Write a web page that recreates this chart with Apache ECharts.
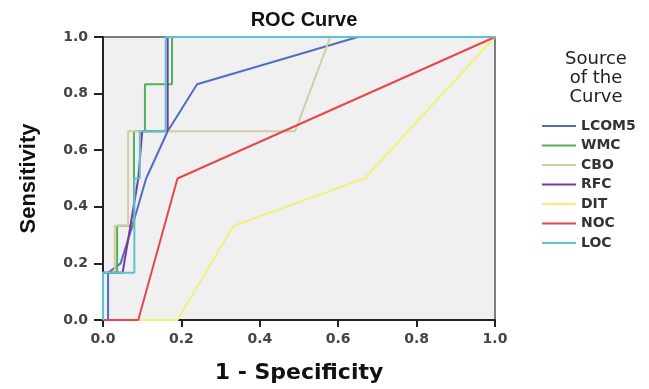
<!DOCTYPE html>
<html>
<head>
<meta charset="utf-8">
<script src="https://cdn.jsdelivr.net/npm/echarts@6/dist/echarts.min.js"></script>
<style>
  html, body { margin: 0; padding: 0; background: #fff; }
  #chart { width: 649px; height: 389px; }
</style>
</head>
<body>
<div id="chart"></div>
<script>
// ROC points, [1 - specificity, sensitivity]
var LCOM5 = [[0, 0], [0.013, 0], [0.013, 0.167], [0.045, 0.2], [0.075, 0.333], [0.11, 0.5], [0.165, 0.667], [0.24, 0.833], [0.65, 1], [1, 1]];
var WMC = [[0, 0], [0, 0.167], [0.036, 0.167], [0.036, 0.333], [0.079, 0.333], [0.079, 0.667], [0.107, 0.667], [0.107, 0.833], [0.176, 0.833], [0.176, 1], [1, 1]];
var CBO = [[0, 0], [0, 0.167], [0.03, 0.167], [0.03, 0.333], [0.064, 0.333], [0.064, 0.667], [0.49, 0.667], [0.58, 1], [1, 1]];
var RFC = [[0, 0], [0, 0.167], [0.05, 0.167], [0.07, 0.333], [0.09, 0.5], [0.1, 0.667], [0.165, 0.667], [0.165, 1], [1, 1]];
var DIT = [[0, 0], [0.19, 0], [0.333, 0.333], [0.667, 0.5], [1, 1]];
var NOC = [[0, 0], [0.09, 0], [0.19, 0.5], [1, 1]];
var LOC = [[0, 0], [0, 0.167], [0.08, 0.167], [0.08, 0.5], [0.094, 0.5], [0.094, 0.667], [0.16, 0.667], [0.16, 1], [1, 1]];

var names = ['LCOM5', 'WMC', 'CBO', 'RFC', 'DIT', 'NOC', 'LOC'];
var curves = [LCOM5, WMC, CBO, RFC, DIT, NOC, LOC];
var colors = ['#4f6fc0', '#4fb35a', '#d4cca2', '#7a3a98', '#f3f07c', '#e8464c', '#5cc3d3'];

var chart = echarts.init(document.getElementById('chart'));

var series = [];
for (var i = 0; i < names.length; i++) {
    series.push({
        name: names[i],
        type: 'line',
        data: curves[i],
        symbol: 'none',
        lineStyle: { width: 2, color: colors[i] },
        itemStyle: { color: colors[i] },
        z: 2 + i
    });
}

var labelFont = { fontFamily: 'DejaVu Sans', fontSize: 14, fontWeight: 'bold', color: '#444' };

chart.setOption({
    animation: false,
    title: [{
        text: 'ROC Curve',
        left: 299,
        top: 5,
        textAlign: 'center',
        textStyle: { fontFamily: 'Liberation Sans', fontSize: 20, fontWeight: 'bold', color: '#111' }
    }, {
        text: 'Source\nof the\nCurve',
        left: 591,
        top: 45,
        textAlign: 'center',
        textStyle: { fontFamily: 'DejaVu Sans', fontSize: 18, fontWeight: 'normal', color: '#222', lineHeight: 19 }
    }],
    legend: {
        orient: 'vertical',
        left: 537,
        top: 113,
        icon: 'rect',
        itemWidth: 34,
        itemHeight: 2,
        itemGap: 3.5,
        data: names,
        textStyle: { fontFamily: 'DejaVu Sans', fontSize: 14, fontWeight: 'bold', color: '#333', lineHeight: 16 }
    },
    grid: {
        left: 103,
        right: 154,
        top: 37,
        bottom: 69,
        show: true,
        backgroundColor: '#f0f0f0',
        borderColor: '#555',
        borderWidth: 1.5
    },
    xAxis: {
        type: 'value',
        min: 0,
        max: 1,
        interval: 0.2,
        name: '1 - Specificity',
        nameLocation: 'middle',
        nameGap: 42,
        nameTextStyle: { fontFamily: 'DejaVu Sans', fontSize: 22, fontWeight: 'bold', color: '#111' },
        axisLine: { lineStyle: { color: '#222', width: 2 } },
        axisTick: { show: true, length: 7, lineStyle: { color: '#222', width: 2 } },
        axisLabel: Object.assign({ margin: 12, formatter: function (v) { return v.toFixed(1); } }, labelFont),
        splitLine: { show: false }
    },
    yAxis: {
        type: 'value',
        min: 0,
        max: 1,
        interval: 0.2,
        name: 'Sensitivity',
        nameLocation: 'middle',
        nameGap: 63,
        nameTextStyle: { fontFamily: 'Liberation Sans', fontSize: 22, fontWeight: 'bold', color: '#111' },
        axisLine: { lineStyle: { color: '#222', width: 2 } },
        axisTick: { show: true, length: 9, lineStyle: { color: '#222', width: 2 } },
        axisLabel: Object.assign({ margin: 15, formatter: function (v) { return v.toFixed(1); } }, labelFont),
        splitLine: { show: false }
    },
    series: series
});
</script>
</body>
</html>
